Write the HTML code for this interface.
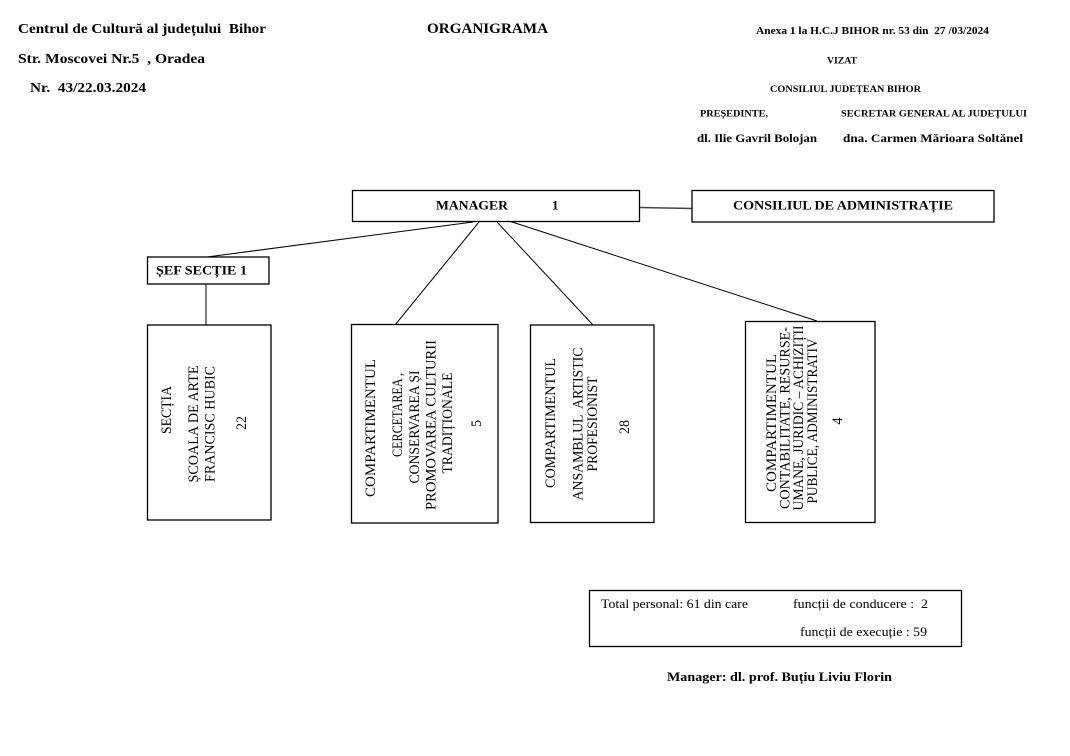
<!DOCTYPE html>
<html>
<head>
<meta charset="utf-8">
<style>
  html, body { margin:0; padding:0; background:#fff; }
  body { width:1070px; height:756px; overflow:hidden; }
  svg { display:block; }
  text { font-family: "Liberation Serif", "DejaVu Serif", serif; fill:#000; white-space:pre; }
  .b { font-weight:bold; }
</style>
</head>
<body>
<svg width="1070" height="756" viewBox="0 0 1070 756" xmlns="http://www.w3.org/2000/svg">
  <rect x="0" y="0" width="1070" height="756" fill="#fff"/>

  <!-- Header left -->
  <text class="b" x="18" y="33" font-size="14" textLength="248" lengthAdjust="spacingAndGlyphs">Centrul de Cultură al județului  Bihor</text>
  <text class="b" x="18" y="63" font-size="14" textLength="187" lengthAdjust="spacingAndGlyphs">Str. Moscovei Nr.5  , Oradea</text>
  <text class="b" x="30" y="92" font-size="14" textLength="116" lengthAdjust="spacingAndGlyphs">Nr.  43/22.03.2024</text>
  <text class="b" x="427" y="33" font-size="14.5" textLength="121" lengthAdjust="spacingAndGlyphs">ORGANIGRAMA</text>

  <!-- Header right -->
  <text class="b" x="756" y="34" font-size="10" textLength="233" lengthAdjust="spacingAndGlyphs">Anexa 1 la H.C.J BIHOR nr. 53 din  27 /03/2024</text>
  <text class="b" x="827" y="63.5" font-size="9" textLength="30" lengthAdjust="spacingAndGlyphs">VIZAT</text>
  <text class="b" x="770" y="92" font-size="9" textLength="151" lengthAdjust="spacingAndGlyphs">CONSILIUL JUDEȚEAN BIHOR</text>
  <text class="b" x="700" y="116.5" font-size="9" textLength="68" lengthAdjust="spacingAndGlyphs">PREȘEDINTE,</text>
  <text class="b" x="841" y="116.5" font-size="9" textLength="186" lengthAdjust="spacingAndGlyphs">SECRETAR GENERAL AL JUDEȚULUI</text>
  <text class="b" x="697" y="142" font-size="11.5" textLength="120" lengthAdjust="spacingAndGlyphs">dl. Ilie Gavril Bolojan</text>
  <text class="b" x="843" y="142" font-size="11.5" textLength="180" lengthAdjust="spacingAndGlyphs">dna. Carmen Mărioara Soltănel</text>

  <!-- Connectors -->
  <g stroke="#000" stroke-width="1" fill="none">
    <line x1="207" y1="257" x2="473" y2="222"/>
    <line x1="479" y1="222" x2="395" y2="325"/>
    <line x1="497" y1="222" x2="593" y2="325"/>
    <line x1="509" y1="221" x2="817" y2="321"/>
    <line x1="206" y1="284" x2="206" y2="325"/>
  </g>
  <line x1="640" y1="207.5" x2="692" y2="208.5" stroke="#444" stroke-width="1.6"/>

  <!-- Top boxes -->
  <g stroke="#000" stroke-width="1.3" fill="#fff">
    <rect x="352.5" y="190.5" width="287" height="31"/>
    <rect x="692" y="190.5" width="302" height="31.5"/>
    <rect x="147.5" y="257" width="121.5" height="27"/>
  </g>
  <text class="b" x="436" y="209.5" font-size="13" textLength="72" lengthAdjust="spacingAndGlyphs">MANAGER</text>
  <text class="b" x="552" y="209.5" font-size="13">1</text>
  <text class="b" x="733" y="209.5" font-size="13" textLength="220" lengthAdjust="spacingAndGlyphs">CONSILIUL DE ADMINISTRAȚIE</text>
  <text class="b" x="156" y="274.5" font-size="13" textLength="91" lengthAdjust="spacingAndGlyphs">ȘEF SECȚIE 1</text>

  <!-- Department boxes -->
  <g stroke="#000" stroke-width="1.3" fill="#fff">
    <rect x="147.5" y="325" width="123.5" height="195"/>
    <rect x="351.5" y="324.5" width="146.5" height="198.5"/>
    <rect x="530.5" y="325" width="123.5" height="197.5"/>
    <rect x="745.5" y="321.5" width="129.5" height="201"/>
  </g>

  <!-- Box 1 -->
  <g font-size="14.5">
    <text transform="translate(171,434) rotate(-90)" textLength="48" lengthAdjust="spacingAndGlyphs">SECȚIA</text>
    <text transform="translate(198,482.5) rotate(-90)" textLength="117" lengthAdjust="spacingAndGlyphs">ȘCOALA DE ARTE</text>
    <text transform="translate(214.5,482) rotate(-90)" textLength="116" lengthAdjust="spacingAndGlyphs">FRANCISC HUBIC</text>
    <text transform="translate(246,430) rotate(-90)" textLength="14" lengthAdjust="spacingAndGlyphs">22</text>
  </g>

  <!-- Box 2 -->
  <g font-size="14.5">
    <text transform="translate(375,497) rotate(-90)" textLength="138" lengthAdjust="spacingAndGlyphs">COMPARTIMENTUL</text>
    <text transform="translate(402,457) rotate(-90)" textLength="84" lengthAdjust="spacingAndGlyphs">CERCETAREA ,</text>
    <text transform="translate(419,483.5) rotate(-90)" textLength="113" lengthAdjust="spacingAndGlyphs">CONSERVAREA ȘI</text>
    <text transform="translate(435.5,510) rotate(-90)" textLength="170" lengthAdjust="spacingAndGlyphs">PROMOVAREA CULTURII</text>
    <text transform="translate(452,473.5) rotate(-90)" textLength="101" lengthAdjust="spacingAndGlyphs">TRADIȚIONALE</text>
    <text transform="translate(481,427) rotate(-90)" textLength="7" lengthAdjust="spacingAndGlyphs">5</text>
  </g>

  <!-- Box 3 -->
  <g font-size="14.5">
    <text transform="translate(555,488) rotate(-90)" textLength="130" lengthAdjust="spacingAndGlyphs">COMPARTIMENTUL</text>
    <text transform="translate(582.5,500.5) rotate(-90)" textLength="153" lengthAdjust="spacingAndGlyphs">ANSAMBLUL  ARTISTIC</text>
    <text transform="translate(597,471.5) rotate(-90)" textLength="95" lengthAdjust="spacingAndGlyphs">PROFESIONIST</text>
    <text transform="translate(629,434) rotate(-90)" textLength="14" lengthAdjust="spacingAndGlyphs">28</text>
  </g>

  <!-- Box 4 -->
  <g font-size="14.5">
    <text transform="translate(776,492) rotate(-90)" textLength="138" lengthAdjust="spacingAndGlyphs">COMPARTIMENTUL</text>
    <text transform="translate(789.5,509) rotate(-90)" textLength="182" lengthAdjust="spacingAndGlyphs">CONTABILITATE, RESURSE-</text>
    <text transform="translate(803,510.5) rotate(-90)" textLength="185" lengthAdjust="spacingAndGlyphs">UMANE, JURIDIC – ACHIZIȚII</text>
    <text transform="translate(817,503.5) rotate(-90)" textLength="165" lengthAdjust="spacingAndGlyphs">PUBLICE, ADMINISTRATIV</text>
    <text transform="translate(842,424.5) rotate(-90)" textLength="7" lengthAdjust="spacingAndGlyphs">4</text>
  </g>

  <!-- Totals box -->
  <rect x="589.5" y="590.5" width="372" height="56" stroke="#000" stroke-width="1.3" fill="#fff"/>
  <text x="601" y="608" font-size="13" textLength="147" lengthAdjust="spacingAndGlyphs">Total personal: 61 din care</text>
  <text x="793" y="608" font-size="13" textLength="135" lengthAdjust="spacingAndGlyphs">funcții de conducere :  2</text>
  <text x="800" y="636" font-size="13" textLength="127" lengthAdjust="spacingAndGlyphs">funcții de execuție : 59</text>

  <text class="b" x="667" y="681" font-size="13" textLength="225" lengthAdjust="spacingAndGlyphs">Manager: dl. prof. Buțiu Liviu Florin</text>
</svg>
</body>
</html>
